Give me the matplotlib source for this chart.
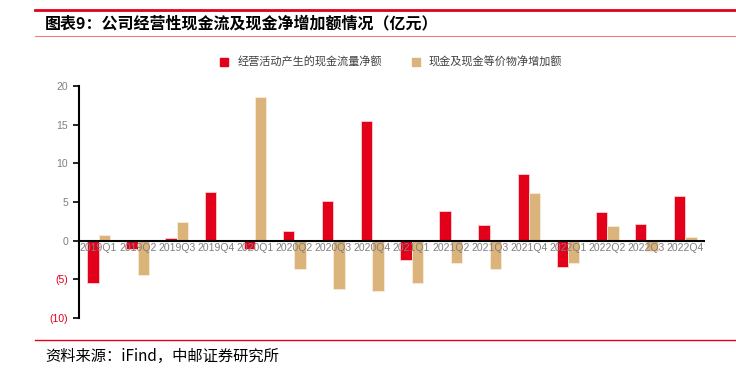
import numpy as np
import matplotlib.pyplot as plt
from matplotlib.lines import Line2D

plt.rcParams['font.family'] = ['Noto Sans CJK SC', 'DejaVu Sans']

# 数据（亿元）
quarters = ['2019Q1', '2019Q2', '2019Q3', '2019Q4', '2020Q1', '2020Q2', '2020Q3', '2020Q4',
            '2021Q1', '2021Q2', '2021Q3', '2021Q4', '2022Q1', '2022Q2', '2022Q3', '2022Q4']
op_cash = [-5.5, -1.1, 0.35, 6.3, -1.1, 1.2, 5.1, 15.5,
           -2.45, 3.85, 2.0, 8.6, -3.4, 3.7, 2.2, 5.8]
net_cash = [0.7, -4.4, 2.45, 0.0, 18.6, -3.65, -6.2, -6.5,
            -5.5, -2.9, -3.7, 6.1, -2.85, 1.95, -1.3, 0.5]
yticks = [-10, -5, 0, 5, 10, 15, 20]
ytick_labels = ['(10)', '(5)', '0', '5', '10', '15', '20']
series_names = ['经营活动产生的现金流量净额', '现金及现金等价物净增加额']

RED = '#E2001A'
TAN = '#DBB47C'
GRAY = '#7F7F7F'
NUM_FONT = ['Liberation Sans', 'DejaVu Sans']

fig = plt.figure(figsize=(7.36, 3.74), dpi=100)
ax = fig.add_axes([79 / 736, 1 - 318 / 374, (705 - 79) / 736, (318 - 86) / 374])

x = np.arange(len(quarters))
w = 0.29
ax.bar(x - w / 2, op_cash, w, color=RED, edgecolor='#FFD0D0', linewidth=0.6,
       label=series_names[0], zorder=2)
ax.bar(x + w / 2, net_cash, w, color=TAN, edgecolor='#FBEBD8', linewidth=0.6,
       label=series_names[1], zorder=2)

ax.set_xlim(-0.5, len(quarters) - 0.5)
ax.set_ylim(-10, 20)
ax.axhline(0, color='black', linewidth=1.5, zorder=3)

for s in ['top', 'right', 'bottom']:
    ax.spines[s].set_visible(False)
ax.spines['left'].set_linewidth(1.5)
ax.spines['left'].set_color('black')

ax.set_xticks([])
ax.set_yticks(yticks)
ax.set_yticklabels(ytick_labels, fontsize=7.5, color=GRAY, family=NUM_FONT)
for t, v in zip(ax.get_yticklabels(), yticks):
    if v < 0:
        t.set_color(RED)
ax.tick_params(axis='y', length=4, width=1.2, color='black', pad=4)

# 类别标签放在零轴下方
for i, q in enumerate(quarters):
    ax.text(i, -1.0, q, ha='center', va='center', fontsize=7.5, color=GRAY,
            family=NUM_FONT, zorder=4)

# 图例
handles = [Line2D([], [], marker='s', linestyle='none', markersize=6, color=RED),
           Line2D([], [], marker='s', linestyle='none', markersize=6, color=TAN)]
fig.legend(handles, series_names, loc='center', bbox_to_anchor=(0.527, 1 - 62 / 374),
           ncol=2, frameon=False, fontsize=8, handletextpad=0.2, columnspacing=2.0,
           labelcolor='#404040')

# 标题和分隔线
fig.add_artist(Line2D([35 / 736, 1.0], [1 - 10 / 374] * 2, color=RED, linewidth=2))
fig.add_artist(Line2D([35 / 736, 1.0], [1 - 36 / 374] * 2, color='#F08080', linewidth=0.8))
fig.text(45 / 736, 1 - 23 / 374, '图表9：公司经营性现金流及现金净增加额情况（亿元）',
         fontsize=11.5, fontweight='bold', va='center', ha='left', color='black')

fig.add_artist(Line2D([35 / 736, 1.0], [1 - 340 / 374] * 2, color=RED, linewidth=1))
fig.text(45 / 736, 1 - 356 / 374, '资料来源：iFind，中邮证券研究所',
         fontsize=11, va='center', ha='left', color='black')

fig.savefig('out.png', dpi=100)
